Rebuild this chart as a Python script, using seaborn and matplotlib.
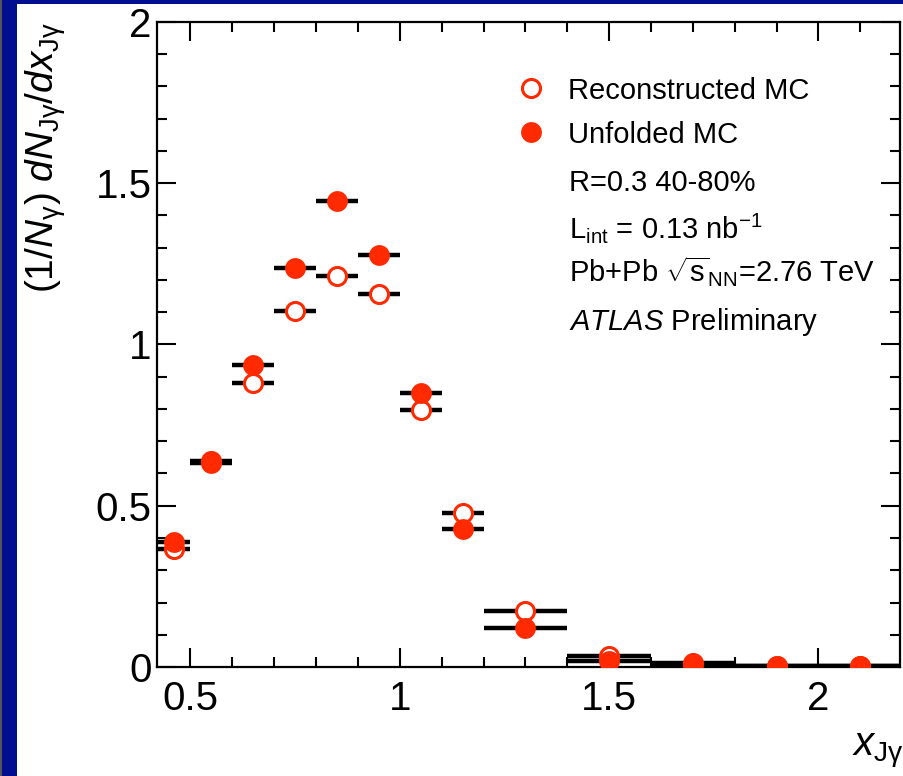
import numpy as np
import pandas as pd
import matplotlib
matplotlib.use("Agg")
import matplotlib.pyplot as plt
from matplotlib.lines import Line2D
from matplotlib.patches import Rectangle
import seaborn as sns

# ---- data ----
bin_lo = [0.42, 0.50, 0.60, 0.70, 0.80, 0.90, 1.00, 1.10, 1.20, 1.40, 1.60, 1.80, 2.00]
bin_hi = [0.50, 0.60, 0.70, 0.80, 0.90, 1.00, 1.10, 1.20, 1.40, 1.60, 1.80, 2.00, 2.20]
x_center = [0.46, 0.55, 0.65, 0.75, 0.85, 0.95, 1.05, 1.15, 1.30, 1.50, 1.70, 1.90, 2.10]
reco_mc = [0.365, 0.640, 0.880, 1.104, 1.212, 1.157, 0.797, 0.477, 0.174, 0.035, 0.012, 0.004, 0.003]
unfolded_mc = [0.388, 0.632, 0.936, 1.237, 1.445, 1.278, 0.850, 0.428, 0.122, 0.020, 0.006, 0.003, 0.002]
x_ticks = [0.5, 1, 1.5, 2]
x_ticklabels = ["0.5", "1", "1.5", "2"]
y_ticks = [0, 0.5, 1, 1.5, 2]
y_ticklabels = ["0", "0.5", "1", "1.5", "2"]
info_lines = ["R=0.3 40-80%",
              r"L$_{\mathrm{int}}$ = 0.13 nb$^{\mathrm{-1}}$",
              r"Pb+Pb $\sqrt{\mathrm{s}}_{\mathrm{NN}}$=2.76 TeV",
              r"$\mathit{ATLAS}$ Preliminary"]

RED = "#ff2a00"
BLUE = "#000f8f"

sns.set_style("ticks")
plt.rcParams["font.family"] = ["Liberation Sans", "DejaVu Sans"]
plt.rcParams["mathtext.fontset"] = "custom"
plt.rcParams["mathtext.rm"] = "Liberation Sans"
plt.rcParams["mathtext.it"] = "Liberation Sans:italic"
plt.rcParams["mathtext.bf"] = "Liberation Sans:bold"
plt.rcParams["mathtext.sf"] = "Liberation Sans"
plt.rcParams["text.color"] = "black"
plt.rcParams["axes.labelcolor"] = "black"
plt.rcParams["xtick.color"] = "black"
plt.rcParams["ytick.color"] = "black"

W, H = 904, 776
fig = plt.figure(figsize=(W / 100, H / 100), dpi=100)
fig.patch.set_facecolor(BLUE)
fig.patches.append(Rectangle((17 / W, 0), 1, (H - 4) / H, transform=fig.transFigure,
                             facecolor="white", edgecolor="none", zorder=-5))
fig.patches.append(Rectangle((0, 0), 2 / W, 1, transform=fig.transFigure,
                             facecolor="#555555", edgecolor="none", zorder=-5))

ax = fig.add_axes([157 / W, (H - 667) / H, (900 - 157) / W, (667 - 22) / H])
ax.set_zorder(2)
ax.set_facecolor("white")

df = pd.DataFrame({"x": x_center * 2,
                   "lo": bin_lo * 2, "hi": bin_hi * 2,
                   "y": reco_mc + unfolded_mc,
                   "series": ["Reconstructed MC"] * len(x_center) + ["Unfolded MC"] * len(x_center)})

# bin-width bars
ax.hlines(df["y"], df["lo"], df["hi"], colors="black", linewidth=3.2, zorder=2)

reco = df[df.series == "Reconstructed MC"]
unf = df[df.series == "Unfolded MC"]
sns.scatterplot(data=reco, x="x", y="y", ax=ax, marker="o", s=13 ** 2,
                facecolor="white", edgecolor=RED, linewidth=2.2, zorder=3, legend=False)
sns.scatterplot(data=unf, x="x", y="y", ax=ax, marker="o", s=15 ** 2,
                color=RED, edgecolor=RED, linewidth=0, zorder=4, legend=False)

ax.set_xlim(0.42, 2.195)
ax.set_ylim(0, 2)
ax.set_xticks(x_ticks)
ax.set_xticklabels(x_ticklabels)
ax.set_yticks(y_ticks)
ax.set_yticklabels(y_ticklabels)
ax.set_xticks(np.arange(0.5, 2.2, 0.1), minor=True)
ax.set_yticks(np.arange(0, 2.01, 0.1), minor=True)
ax.tick_params(which="both", direction="in", top=True, right=True, width=1.5, color="black")
ax.tick_params(which="major", length=14, labelsize=29)
ax.tick_params(which="minor", length=7)
ax.tick_params(axis="x", which="major", pad=9)
ax.tick_params(axis="y", which="major", pad=4)
for s in ax.spines.values():
    s.set_linewidth(1.6)
    s.set_color("black")

ax.set_xlabel(r"$x_{\mathrm{J\gamma}}$", fontsize=29, loc="right")
ax.xaxis.set_label_coords(1.005, -0.10)
ax.set_ylabel(r"$(1/N_{\mathrm{\gamma}})\ dN_{\mathrm{J\gamma}}/dx_{\mathrm{J\gamma}}$",
              fontsize=28, loc="top")
ax.yaxis.set_label_coords(-0.12, 1.0)

handles = [Line2D([], [], linestyle="none", marker="o", markersize=13, markerfacecolor="white",
                  markeredgecolor=RED, markeredgewidth=2.2),
           Line2D([], [], linestyle="none", marker="o", markersize=15, markerfacecolor=RED,
                  markeredgecolor=RED, markeredgewidth=0)]
fig.legend(handles, ["Reconstructed MC", "Unfolded MC"], loc="upper left",
           bbox_to_anchor=(502 / W, 1 - 62 / H), frameon=False, fontsize=21,
           handlelength=1.0, handletextpad=0.75, labelspacing=0.55, borderpad=0)

ys = [183, 228, 272, 322]
for t, yy in zip(info_lines, ys):
    fig.text(569 / W, 1 - yy / H, t, fontsize=21, ha="left", va="center")

fig.savefig("out.png", dpi=100, facecolor=fig.get_facecolor())
